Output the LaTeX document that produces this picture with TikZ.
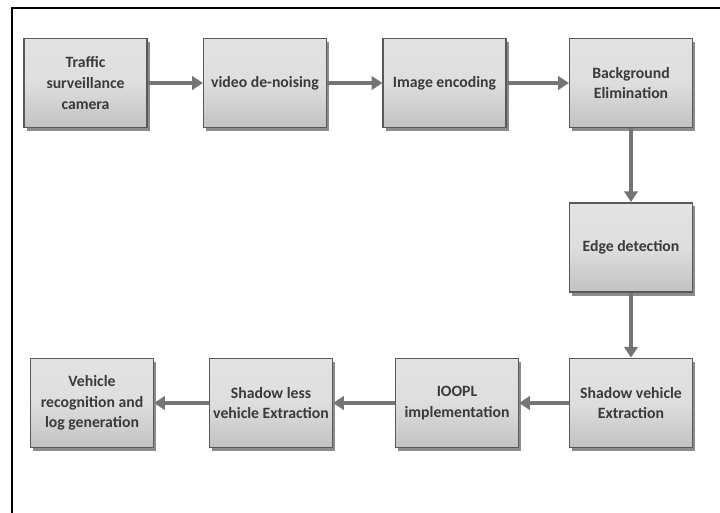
\documentclass[tikz,border=0pt]{standalone}
\usepackage{fontspec}
\setmainfont{Carlito}
\usetikzlibrary{arrows.meta,shadows}
\definecolor{arrowgray}{HTML}{757575}
\definecolor{txtgray}{HTML}{3A3A3A}
\begin{document}
\begin{tikzpicture}[x=0.75pt,y=-0.75pt,
  procbox/.style={rectangle, minimum width=92pt, minimum height=67pt, inner sep=1pt,
    top color=gray!22, bottom color=gray!48, middle color=gray!26,
    draw=gray!70!black, line width=1.2pt,
    drop shadow={shadow xshift=2pt, shadow yshift=-2.5pt, opacity=0.45, fill=black},
    align=center, text=txtgray, font=\bfseries\fontsize{11.8}{15.5}\selectfont},
  flow/.style={draw=arrowgray, line width=3pt, -{Triangle[width=10pt,length=8pt]}}]
\useasboundingbox (0,0) rectangle (720,513);
\fill[white] (0,0) rectangle (720,513);
\draw[line width=1.6pt, black] (12,513) -- (12,8) -- (720,8);
\node[procbox] (b1) at (85.5,83) {Traffic\\surveillance\\camera};
\node[procbox] (b2) at (265,83) {video de-noising};
\node[procbox] (b3) at (444.5,83) {Image encoding};
\node[procbox] (b4) at (631,83) {Background\\Elimination};
\node[procbox] (b5) at (631,247.5) {Edge detection};
\node[procbox] (b6) at (631,403) {Shadow vehicle\\Extraction};
\node[procbox] (b7) at (457,403) {IOOPL\\implementation};
\node[procbox] (b8) at (271,403) {Shadow less\\vehicle Extraction};
\node[procbox] (b9) at (92,403) {Vehicle\\recognition and\\log generation};
\draw[flow] (b1) -- (b2);
\draw[flow] (b2) -- (b3);
\draw[flow] (b3) -- (b4);
\draw[flow] (b4) -- (b5);
\draw[flow] (b5) -- (b6);
\draw[flow] (b6) -- (b7);
\draw[flow] (b7) -- (b8);
\draw[flow] (b8) -- (b9);
\end{tikzpicture}
\end{document}
